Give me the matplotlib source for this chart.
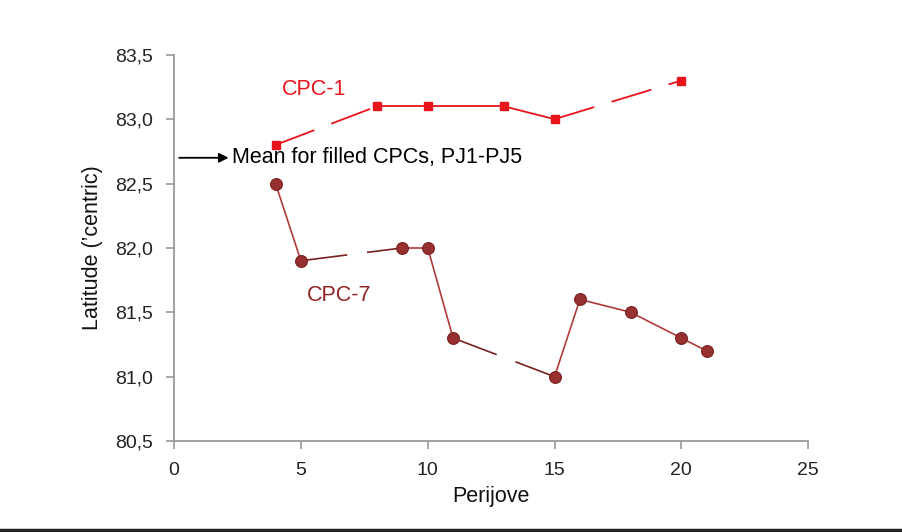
import numpy as np
import matplotlib
matplotlib.use("Agg")
import matplotlib.pyplot as plt
from matplotlib.ticker import FuncFormatter

# CPC-1 (red squares)
pj_cpc1 = [4, 8, 10, 13, 15, 20]
lat_cpc1 = [82.8, 83.1, 83.1, 83.1, 83.0, 83.3]
# CPC-7 (dark red circles)
pj_cpc7 = [4, 5, 9, 10, 11, 15, 16, 18, 20, 21]
lat_cpc7 = [82.5, 81.9, 82.0, 82.0, 81.3, 81.0, 81.6, 81.5, 81.3, 81.2]
# mean for filled CPCs, PJ1-PJ5
mean_lat = 82.7

x_ticks = [0, 5, 10, 15, 20, 25]
y_ticks = [80.5, 81.0, 81.5, 82.0, 82.5, 83.0, 83.5]

red = "#e8141b"
dark = "#8f2424"
grey = "#9a9a9a"

plt.rcParams['font.family'] = ['Liberation Sans', 'DejaVu Sans']

fig = plt.figure(figsize=(9.02, 5.32), dpi=100)
ax = fig.add_axes([0.193, 0.171, 0.703, 0.726])

# CPC-1: long dashes across the gaps 4-8 and 15-20
for i in range(len(pj_cpc1) - 1):
    ls = (0, (23, 10)) if (pj_cpc1[i], pj_cpc1[i + 1]) in [(4, 8), (15, 20)] else '-'
    ax.plot(pj_cpc1[i:i + 2], lat_cpc1[i:i + 2], color=red, lw=1.3, linestyle=ls,
            dash_capstyle='butt')
ax.plot(pj_cpc1, lat_cpc1, linestyle='none', marker='s', markersize=5.5,
        color=red, zorder=5)

# CPC-7: long dashes across the gaps 5-9 and 11-15
for i in range(len(pj_cpc7) - 1):
    ls = (0, (28, 12)) if (pj_cpc7[i], pj_cpc7[i + 1]) in [(5, 9), (11, 15)] else '-'
    lc = "#b03a3a" if ls == '-' else "#7a2020"
    ax.plot(pj_cpc7[i:i + 2], lat_cpc7[i:i + 2], color=lc, lw=1.2, linestyle=ls,
            dash_capstyle='butt')
ax.plot(pj_cpc7, lat_cpc7, linestyle='none', marker='o', markersize=8.5,
        markerfacecolor="#973030", markeredgecolor="#7a1f1f", markeredgewidth=0.8,
        zorder=5)

ax.annotate("", xy=(2.15, mean_lat), xytext=(0.2, mean_lat),
            arrowprops=dict(arrowstyle='-|>', color='black', lw=1.3,
                            mutation_scale=14, shrinkA=0, shrinkB=0))
ax.text(2.3, mean_lat, "Mean for filled CPCs, PJ1-PJ5", fontsize=15.5,
        va='center', ha='left', color='black')
ax.text(4.25, 83.23, "CPC-1", fontsize=15.5, color=red, va='center', ha='left')
ax.text(5.25, 81.63, "CPC-7", fontsize=15.5, color=dark, va='center', ha='left')

ax.set_xlim(0, 25)
ax.set_ylim(80.5, 83.5)
ax.set_xticks(x_ticks)
ax.set_yticks(y_ticks)
ax.yaxis.set_major_formatter(FuncFormatter(lambda v, p: ("%.1f" % v).replace('.', ',')))
ax.tick_params(axis='both', colors=grey, labelcolor='#222222', labelsize=14,
               length=6, width=1.2, direction='out')
ax.tick_params(axis='y', pad=9)
ax.tick_params(axis='x', pad=9)
for s in ['top', 'right']:
    ax.spines[s].set_visible(False)
for s in ['left', 'bottom']:
    ax.spines[s].set_color(grey)
    ax.spines[s].set_linewidth(1.3)

ax.set_xlabel("Perijove", fontsize=15.5, color='#111111', labelpad=5)
ax.set_ylabel("Latitude (\u2019centric)", fontsize=15.5, color='#111111', labelpad=9)

# thin dark rule along the bottom edge of the picture
fig.add_artist(plt.Line2D([0, 1], [0.003, 0.003], color='#222222', lw=2.5,
                          transform=fig.transFigure))

fig.savefig("out.png", dpi=100)
